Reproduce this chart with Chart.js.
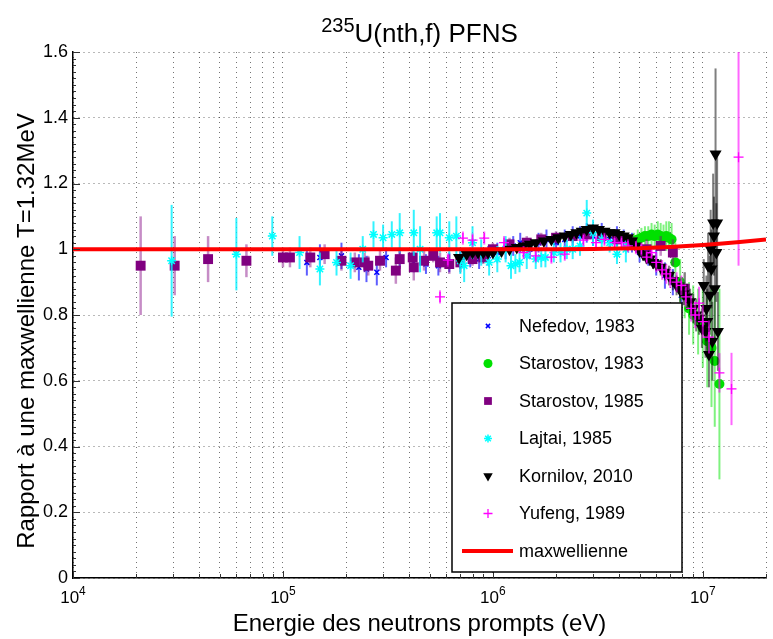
<!DOCTYPE html>
<html>
<head>
<meta charset="utf-8">
<script src="https://cdn.jsdelivr.net/npm/chart.js@4.4.0/dist/chart.umd.min.js"></script>
<style>
  html, body { margin: 0; padding: 0; background: #fff; }
  #wrap { width: 773px; height: 639px; }
</style>
</head>
<body>
<div id="wrap"><canvas id="pfns" width="773" height="639"></canvas></div>
<script>
//..energies (eV), ratios to the maxwellian, and half error bars, per experiment
const nefedovE = [1.3e5, 1.5e5, 1.9e5, 2.3e5, 2.5e5, 2.8e5, 3.1e5, 3.6e5, 4.2e5, 4.8e5,
    5.5e5, 6.2e5, 7.0e5, 7.8e5, 8.6e5, 9.5e5, 1.05e6, 1.15e6, 1.25e6, 1.35e6,
    1.5e6, 1.65e6, 1.8e6, 2.0e6, 2.2e6, 2.4e6, 2.6e6, 2.8e6, 3.0e6, 3.3e6,
    3.6e6, 3.9e6, 4.2e6, 4.6e6, 5.0e6, 5.5e6, 6.0e6, 6.6e6, 7.2e6, 7.9e6];
const nefedovR = [0.96, 0.975, 0.98, 0.945, 0.94, 0.93, 0.975, 0.975, 0.96, 0.955,
    0.95, 0.96, 0.97, 0.975, 0.97, 0.98, 0.99, 1.0, 1.01, 1.02,
    1.0, 1.02, 1.03, 1.02, 1.03, 1.04, 1.04, 1.05, 1.04, 1.05,
    1.03, 1.04, 1.03, 1.02, 0.99, 0.98, 0.96, 0.92, 0.9, 0.86];
const nefedovErr = [0.04, 0.04, 0.04, 0.04, 0.04, 0.04, 0.03, 0.03, 0.03, 0.03,
    0.03, 0.03, 0.03, 0.03, 0.03, 0.03, 0.03, 0.03, 0.03, 0.03,
    0.03, 0.03, 0.03, 0.03, 0.03, 0.03, 0.03, 0.03, 0.03, 0.03,
    0.03, 0.03, 0.03, 0.03, 0.03, 0.03, 0.04, 0.04, 0.04, 0.05];

const starostov83E = [4.5e6, 4.7e6, 4.9e6, 5.1e6, 5.3e6, 5.5e6, 5.7e6, 5.9e6, 6.1e6, 6.3e6,
    6.5e6, 6.7e6, 6.9e6, 7.1e6, 7.4e6, 7.8e6, 8.2e6, 8.6e6, 9.0e6, 9.5e6,
    1.0e7, 1.05e7, 1.1e7, 1.14e7, 1.2e7];
const starostov83R = [1.02, 1.025, 1.03, 1.035, 1.04, 1.04, 1.045, 1.04, 1.045, 1.04,
    1.035, 1.04, 1.035, 1.03, 0.96, 0.9, 0.86, 0.82, 0.8, 0.78,
    0.76, 0.72, 0.7, 0.66, 0.59];
const starostov83Err = [0.02, 0.025, 0.03, 0.03, 0.03, 0.03, 0.035, 0.035, 0.04, 0.04,
    0.04, 0.045, 0.05, 0.05, 0.06, 0.07, 0.07, 0.08, 0.09, 0.1,
    0.12, 0.14, 0.18, 0.2, 0.29];

const starostov85E = [2.1e4, 3.05e4, 4.4e4, 6.7e4, 1.0e5, 1.08e5, 1.35e5, 1.58e5, 1.9e5, 2.2e5,
    2.45e5, 2.55e5, 2.9e5, 3.45e5, 3.6e5, 4.15e5, 4.2e5, 4.7e5, 5.2e5, 5.6e5,
    6.2e5, 7.0e5, 8.0e5, 9.0e5, 1.0e6, 1.2e6, 1.45e6, 1.7e6, 2.0e6, 2.4e6,
    2.8e6, 3.3e6, 3.9e6, 4.6e6, 5.4e6, 6.3e6, 7.2e6, 8.2e6];
const starostov85R = [0.95, 0.95, 0.97, 0.965, 0.975, 0.975, 0.975, 0.985, 0.965, 0.96,
    0.96, 0.95, 0.965, 0.935, 0.97, 0.975, 0.945, 0.965, 0.98, 0.96,
    0.955, 0.96, 0.97, 0.975, 1.0, 1.015, 1.02, 1.03, 1.035, 1.04,
    1.045, 1.04, 1.03, 1.02, 1.0, 1.01, 0.99, 0.88];
const starostov85Err = [0.15, 0.09, 0.07, 0.05, 0.03, 0.03, 0.03, 0.03, 0.03, 0.03,
    0.03, 0.03, 0.03, 0.04, 0.03, 0.03, 0.04, 0.03, 0.02, 0.03,
    0.03, 0.03, 0.02, 0.02, 0.02, 0.02, 0.02, 0.02, 0.02, 0.02,
    0.02, 0.02, 0.02, 0.02, 0.03, 0.03, 0.04, 0.05];

const lajtaiE = [2.95e4, 6.0e4, 8.9e4, 1.2e5, 1.5e5, 1.8e5, 2.1e5, 2.4e5, 2.7e5, 3.0e5,
    3.3e5, 3.6e5, 4.2e5, 4.5e5, 5.4e5, 5.6e5, 6.2e5, 6.7e5, 7.3e5, 7.0e5,
    8.0e5, 8.8e5, 9.6e5, 1.05e6, 1.15e6, 1.22e6, 1.28e6, 1.34e6, 1.45e6, 1.6e6,
    1.7e6, 1.78e6, 1.95e6, 2.1e6, 2.25e6, 2.4e6, 2.6e6, 2.8e6, 3.0e6, 3.3e6,
    3.6e6, 3.9e6, 4.3e6];
const lajtaiR = [0.965, 0.985, 1.04, 0.99, 0.94, 0.96, 0.95, 1.0, 1.045, 1.035,
    1.045, 1.05, 1.05, 1.0, 1.05, 1.05, 1.035, 1.04, 0.95, 0.965,
    1.02, 0.99, 0.96, 0.97, 1.0, 0.95, 0.955, 0.96, 0.98, 0.97,
    0.975, 0.975, 0.99, 0.99, 1.0, 1.0, 1.01, 1.11, 1.05, 1.03,
    1.02, 0.985, 1.0];
const lajtaiErr = [0.17, 0.11, 0.06, 0.05, 0.05, 0.04, 0.04, 0.04, 0.04, 0.04,
    0.04, 0.06, 0.07, 0.07, 0.05, 0.06, 0.05, 0.06, 0.05, 0.04,
    0.05, 0.04, 0.04, 0.04, 0.04, 0.04, 0.03, 0.03, 0.04, 0.03,
    0.03, 0.03, 0.03, 0.03, 0.03, 0.03, 0.03, 0.04, 0.04, 0.03,
    0.03, 0.03, 0.04];

const kornilovE = [6.9e5, 7.5e5, 8.0e5, 8.5e5, 9.0e5, 9.5e5, 1.0e6, 1.1e6, 1.2e6, 1.3e6,
    1.4e6, 1.5e6, 1.6e6, 1.75e6, 1.9e6, 2.05e6, 2.2e6, 2.35e6, 2.5e6, 2.65e6,
    2.8e6, 3.0e6, 3.2e6, 3.4e6, 3.6e6, 3.8e6, 4.0e6, 4.2e6, 4.4e6, 4.6e6,
    4.8e6, 5.0e6, 5.2e6, 5.4e6, 5.6e6, 5.8e6, 6.0e6, 6.3e6, 6.6e6, 6.9e6,
    7.2e6, 7.5e6, 7.8e6, 8.1e6, 8.4e6, 8.7e6, 9.0e6, 9.3e6, 9.6e6, 9.9e6,
    1.01e7, 1.03e7, 1.04e7, 1.05e7, 1.06e7, 1.07e7, 1.08e7, 1.09e7, 1.1e7, 1.11e7,
    1.12e7, 1.13e7, 1.14e7, 1.15e7, 1.16e7, 1.17e7, 1.18e7];
const kornilovR = [0.975, 0.985, 0.99, 0.99, 0.99, 0.99, 0.99, 0.995, 1.0, 1.005,
    1.01, 1.015, 1.02, 1.025, 1.03, 1.035, 1.04, 1.045, 1.05, 1.055,
    1.06, 1.065, 1.06, 1.055, 1.05, 1.05, 1.045, 1.04, 1.035, 1.025,
    1.01, 0.995, 0.985, 0.975, 0.97, 0.96, 0.955, 0.945, 0.93, 0.92,
    0.905, 0.89, 0.875, 0.865, 0.855, 0.84, 0.82, 0.80, 0.79, 0.76,
    0.89, 0.75, 0.82, 0.78, 0.95, 0.68, 0.86, 1.0, 0.94, 0.72,
    1.08, 1.04, 0.88, 1.29, 0.99, 1.08, 0.75];
const kornilovErr = [0.01, 0.01, 0.01, 0.01, 0.01, 0.01, 0.01, 0.01, 0.01, 0.01,
    0.01, 0.01, 0.01, 0.01, 0.01, 0.01, 0.01, 0.01, 0.01, 0.01,
    0.01, 0.01, 0.01, 0.01, 0.01, 0.01, 0.01, 0.01, 0.01, 0.01,
    0.015, 0.015, 0.02, 0.02, 0.02, 0.02, 0.02, 0.025, 0.025, 0.03,
    0.03, 0.03, 0.035, 0.035, 0.04, 0.04, 0.045, 0.05, 0.05, 0.06,
    0.08, 0.08, 0.1, 0.1, 0.1, 0.1, 0.12, 0.12, 0.12, 0.12,
    0.15, 0.12, 0.15, 0.26, 0.15, 0.2, 0.12];

const yufengE = [5.6e5, 6.1e5, 7.2e5, 8.0e5, 9.1e5, 1.13e6, 1.4e6, 1.6e6, 1.9e6, 2.2e6,
    2.7e6, 3.1e6, 3.4e6, 3.8e6, 4.1e6, 4.4e6, 4.8e6, 5.1e6, 5.4e6, 5.7e6,
    6.0e6, 6.4e6, 6.7e6, 7.0e6, 7.5e6, 7.9e6, 8.3e6, 8.8e6, 9.2e6, 9.6e6,
    1.0e7, 1.07e7, 1.2e7, 1.37e7, 1.48e7];
const yufengR = [0.855, 0.967, 1.034, 1.028, 1.034, 1.02, 0.99, 0.98, 0.976, 0.985,
    1.028, 1.02, 1.03, 1.02, 1.02, 1.01, 1.005, 1.0, 0.976, 0.99,
    0.96, 0.937, 0.925, 0.912, 0.9, 0.89, 0.855, 0.82, 0.8, 0.836,
    0.78, 0.733, 0.624, 0.575, 1.28];
const yufengErr = [0.02, 0.02, 0.02, 0.02, 0.02, 0.02, 0.02, 0.02, 0.02, 0.02,
    0.02, 0.02, 0.02, 0.02, 0.02, 0.02, 0.02, 0.02, 0.02, 0.02,
    0.03, 0.03, 0.03, 0.03, 0.03, 0.03, 0.03, 0.04, 0.04, 0.05,
    0.05, 0.05, 0.06, 0.11, 0.33];

//..maxwellian reference curve (ratio to itself with a slight drift at high energy)
const maxwE = [1e4, 1e6, 2e6, 3e6, 4e6, 5e6, 6e6, 7e6, 8e6, 1e7, 1.2e7, 1.5e7, 2e7];
const maxwR = [1.0, 1.0, 1.0, 1.001, 1.002, 1.003, 1.005, 1.007, 1.009, 1.013, 1.017, 1.022, 1.03];

//..axis ticks
const xGridTicks = [1e4, 2e4, 3e4, 4e4, 5e4, 6e4, 7e4, 8e4, 9e4,
    1e5, 2e5, 3e5, 4e5, 5e5, 6e5, 7e5, 8e5, 9e5,
    1e6, 2e6, 3e6, 4e6, 5e6, 6e6, 7e6, 8e6, 9e6,
    1e7, 2e7];
const xDecades = [4, 5, 6, 7];

const FONT = '"Liberation Sans", Arial, Helvetica, sans-serif';

function pts(xs, ys) {
    return xs.map((x, i) => ({ x: x, y: ys[i] }));
}

//..vertical error bars, drawn under each dataset's own markers
const errorBars = {
    id: 'errorBars',
    beforeDatasetDraw(chart, args) {
        const ds = chart.data.datasets[args.index];
        if (!ds.errs) return;
        const { ctx, chartArea: a, scales: { x, y } } = chart;
        ctx.save();
        ctx.beginPath();
        ctx.rect(a.left, a.top, a.right - a.left, a.bottom - a.top);
        ctx.clip();
        ctx.strokeStyle = ds.errColor;
        ctx.lineWidth = ds.errWidth;
        ds.data.forEach((p, i) => {
            const px = x.getPixelForValue(p.x);
            ctx.beginPath();
            ctx.moveTo(px, y.getPixelForValue(p.y - ds.errs[i]));
            ctx.lineTo(px, y.getPixelForValue(p.y + ds.errs[i]));
            ctx.stroke();
        });
        ctx.restore();
    }
};

//..title, y label, decade labels with exponents and small inward ticks
const decorations = {
    id: 'decorations',
    afterDraw(chart) {
        const { ctx, chartArea: a, scales: { x, y } } = chart;
        ctx.save();

        //..title with superscript mass number
        const cx = (a.left + a.right) / 2;
        ctx.fillStyle = '#000';
        ctx.textBaseline = 'alphabetic';
        ctx.font = '20px ' + FONT;
        const supW = ctx.measureText('235').width;
        ctx.font = '26px ' + FONT;
        const mainW = ctx.measureText('U(nth,f) PFNS').width;
        const x0 = cx - (supW + mainW) / 2;
        ctx.font = '20px ' + FONT;
        ctx.fillText('235', x0, 32);
        ctx.font = '26px ' + FONT;
        ctx.fillText('U(nth,f) PFNS', x0 + supW, 42);

        //..rotated y label
        ctx.save();
        ctx.translate(34, 331);
        ctx.rotate(-Math.PI / 2);
        ctx.textAlign = 'center';
        ctx.font = '24px ' + FONT;
        ctx.fillText('Rapport à une maxwellienne T=1.32MeV', 0, 0);
        ctx.restore();

        //..decade labels
        xDecades.forEach(d => {
            const px = x.getPixelForValue(Math.pow(10, d));
            ctx.font = '17px ' + FONT;
            const bw = ctx.measureText('10').width;
            ctx.font = '12px ' + FONT;
            const ew = ctx.measureText(String(d)).width;
            const left = px - (bw + ew) / 2;
            ctx.font = '17px ' + FONT;
            ctx.fillText('10', left, 603);
            ctx.font = '12px ' + FONT;
            ctx.fillText(String(d), left + bw, 595);
        });

        //..inward ticks
        ctx.strokeStyle = '#333';
        ctx.lineWidth = 1;
        xGridTicks.forEach(v => {
            const px = Math.round(x.getPixelForValue(v)) + 0.5;
            const major = Math.abs(Math.log10(v) - Math.round(Math.log10(v))) < 1e-9;
            ctx.beginPath();
            ctx.moveTo(px, a.bottom);
            ctx.lineTo(px, a.bottom - (major ? 7 : 4));
            ctx.stroke();
        });
        for (let k = 0; k <= 80; k++) {
            const py = Math.round(y.getPixelForValue(k * 0.02)) + 0.5;
            ctx.beginPath();
            ctx.moveTo(a.left, py);
            ctx.lineTo(a.left + (k % 10 === 0 ? 7 : 3), py);
            ctx.stroke();
        }
        ctx.restore();
    }
};

//..boxed legend in the lower right of the plot
const boxLegend = {
    id: 'boxLegend',
    afterDraw(chart) {
        const ctx = chart.ctx;
        const L = 452, T = 303, W = 230, H = 269;
        ctx.save();
        ctx.fillStyle = '#fff';
        ctx.fillRect(L, T, W, H);
        ctx.strokeStyle = '#000';
        ctx.lineWidth = 1.5;
        ctx.strokeRect(L, T, W, H);
        ctx.font = '18px ' + FONT;
        ctx.textBaseline = 'middle';
        chart.data.datasets.forEach((ds, i) => {
            const cy = T + 23 + i * 37.5;
            if (ds.type === 'line') {
                ctx.strokeStyle = ds.borderColor;
                ctx.lineWidth = 4;
                ctx.beginPath();
                ctx.moveTo(L + 10, cy);
                ctx.lineTo(L + 61, cy);
                ctx.stroke();
            } else {
                ctx.fillStyle = ds.backgroundColor;
                ctx.strokeStyle = ds.borderColor;
                ctx.lineWidth = ds.borderWidth;
                Chart.helpers.drawPoint(ctx, {
                    pointStyle: ds.pointStyle,
                    rotation: ds.pointRotation || 0,
                    radius: ds.legendRadius,
                    borderWidth: ds.borderWidth
                }, L + 36, cy);
            }
            ctx.fillStyle = '#000';
            ctx.fillText(ds.label, L + 67, cy + 1);
        });
        ctx.restore();
    }
};

document.addEventListener('DOMContentLoaded', () => {
    new Chart(document.getElementById('pfns'), {
        type: 'scatter',
        data: {
            datasets: [
                {
                    label: 'Nefedov, 1983', data: pts(nefedovE, nefedovR), errs: nefedovErr,
                    pointStyle: 'crossRot', pointRadius: 3.5, legendRadius: 3, borderWidth: 1.5,
                    borderColor: '#0000ff', backgroundColor: '#0000ff',
                    errColor: 'rgba(40,40,255,0.75)', errWidth: 2, order: 7
                },
                {
                    label: 'Starostov, 1983', data: pts(starostov83E, starostov83R), errs: starostov83Err,
                    pointStyle: 'circle', pointRadius: 5, legendRadius: 4.5, borderWidth: 0,
                    borderColor: '#00e000', backgroundColor: '#00e000',
                    errColor: 'rgba(0,230,0,0.5)', errWidth: 2, order: 6
                },
                {
                    label: 'Starostov, 1985', data: pts(starostov85E, starostov85R), errs: starostov85Err,
                    pointStyle: 'rect', pointRadius: 7, legendRadius: 5.5, borderWidth: 0,
                    borderColor: '#800080', backgroundColor: '#800080',
                    errColor: 'rgba(128,0,128,0.45)', errWidth: 2.5, order: 5
                },
                {
                    label: 'Lajtai, 1985', data: pts(lajtaiE, lajtaiR), errs: lajtaiErr,
                    pointStyle: 'star', pointRadius: 4.5, legendRadius: 4, borderWidth: 1.5,
                    borderColor: '#00ffff', backgroundColor: '#00ffff',
                    errColor: 'rgba(0,240,255,0.8)', errWidth: 2, order: 4
                },
                {
                    label: 'Kornilov, 2010', data: pts(kornilovE, kornilovR), errs: kornilovErr,
                    pointStyle: 'triangle', pointRotation: 180, pointRadius: 7, legendRadius: 5.5, borderWidth: 0,
                    borderColor: '#000', backgroundColor: '#000',
                    errColor: 'rgba(0,0,0,0.5)', errWidth: 2, order: 3
                },
                {
                    label: 'Yufeng, 1989', data: pts(yufengE, yufengR), errs: yufengErr,
                    pointStyle: 'cross', pointRadius: 5, legendRadius: 4.5, borderWidth: 1.3,
                    borderColor: '#ff00ff', backgroundColor: '#ff00ff',
                    errColor: 'rgba(255,0,255,0.6)', errWidth: 2, order: 2
                },
                {
                    type: 'line', label: 'maxwellienne', data: pts(maxwE, maxwR),
                    borderColor: '#ff0000', backgroundColor: '#ff0000', borderWidth: 4,
                    pointRadius: 0, tension: 0, showLine: true, order: 1
                }
            ]
        },
        options: {
            responsive: false,
            animation: false,
            events: [],
            layout: { padding: { top: 52, right: 0, left: 0, bottom: 0 } },
            plugins: {
                legend: { display: false },
                title: { display: false },
                tooltip: { enabled: false }
            },
            scales: {
                x: {
                    type: 'logarithmic',
                    min: 1e4,
                    max: 2e7,
                    afterBuildTicks: scale => {
                        scale.ticks = xGridTicks.map(v => ({ value: v }));
                    },
                    afterFit: scale => { scale.height = 61; },
                    ticks: { display: false },
                    grid: { color: 'rgba(0,0,0,0.55)', lineWidth: 1, drawTicks: false },
                    border: { display: true, color: '#000', width: 1.5, dash: [1, 4] },
                    title: {
                        display: true,
                        text: 'Energie des neutrons prompts (eV)',
                        color: '#000',
                        font: { family: FONT, size: 24 },
                        padding: { top: 7, bottom: 0 }
                    }
                },
                y: {
                    min: 0,
                    max: 1.6,
                    afterFit: scale => { scale.width = 73; },
                    ticks: {
                        stepSize: 0.2,
                        color: '#000',
                        padding: 5,
                        font: { family: FONT, size: 18 },
                        callback: v => String(Number(v.toFixed(1)))
                    },
                    grid: { color: 'rgba(0,0,0,0.55)', lineWidth: 1, drawTicks: false },
                    border: { display: true, color: '#000', width: 1.5, dash: [1, 4] }
                }
            }
        },
        plugins: [errorBars, decorations, boxLegend]
    });
});
</script>
</body>
</html>
